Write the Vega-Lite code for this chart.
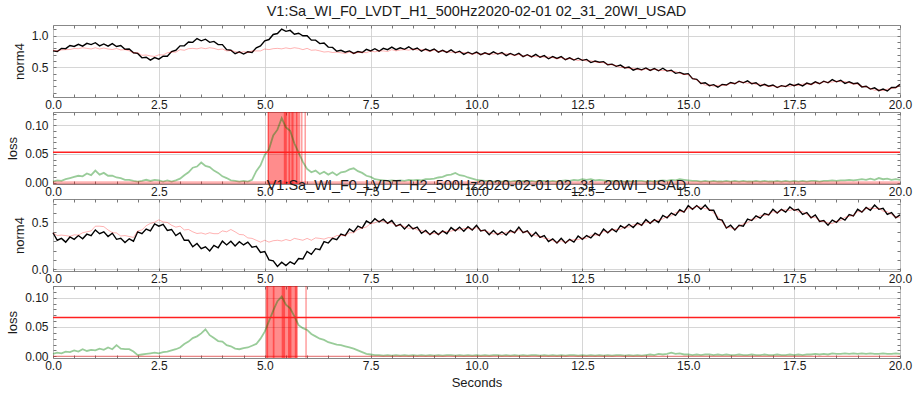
{
  "$schema": "https://vega.github.io/schema/vega-lite/v6.json",
  "background": "white",
  "autosize": {"type": "pad"},
  "padding": {"left": 6, "top": 3, "right": 4, "bottom": 4},
  "spacing": 15,
  "bounds": "flush",
  "config": {
    "font": "Liberation Sans",
    "view": {"stroke": "#888888", "strokeWidth": 1},
    "axis": {
      "labelFont": "Liberation Sans", "labelFontSize": 12, "labelColor": "#1a1a1a",
      "titleFont": "Liberation Sans", "titleFontSize": 13, "titleFontWeight": "normal", "titleColor": "#1a1a1a",
      "grid": true, "gridColor": "#cccccc", "gridWidth": 0.8,
      "domain": false, "tickColor": "#777777", "tickSize": -3, "tickWidth": 1,
      "labelPadding": 5, "labelFlush": false, "labelOverlap": false
    },
    "axisY": {"labelPadding": 8, "titlePadding": 5},
    "title": {"font": "Liberation Sans", "fontSize": 14.5, "fontWeight": "normal", "color": "#1a1a1a", "offset": 4, "anchor": "middle"}
  },
  "datasets": {
    "spans": [
      {"p": "H1", "x0": 5.07, "x1": 5.84}, {"p": "H1", "x0": 5.07, "x1": 5.10}, {"p": "H1", "x0": 5.45, "x1": 5.52},
      {"p": "H1", "x0": 5.56, "x1": 5.60}, {"p": "H1", "x0": 5.63, "x1": 5.68}, {"p": "H1", "x0": 5.74, "x1": 5.77},
      {"p": "H1", "x0": 5.86, "x1": 5.89}, {"p": "H1", "x0": 5.94, "x1": 5.97},
      {"p": "H2", "x0": 5.02, "x1": 5.78}, {"p": "H2", "x0": 5.04, "x1": 5.08}, {"p": "H2", "x0": 5.19, "x1": 5.23},
      {"p": "H2", "x0": 5.40, "x1": 5.48}, {"p": "H2", "x0": 5.55, "x1": 5.63}, {"p": "H2", "x0": 5.71, "x1": 5.76},
      {"p": "H2", "x0": 5.96, "x1": 5.99}
    ],
    "thr": [{"p": "H1", "v": 0.053}, {"p": "H2", "v": 0.066}],
    "zero": [{"v": 0}],
    "ts": [
{"t":0,"a":0.76,"b":0.77,"c":0.002,"d":0.39,"e":0.39,"f":0.004},
{"t":0.1,"a":0.75,"b":0.76,"c":0.004,"d":0.31,"e":0.36,"f":0.006},
{"t":0.2,"a":0.80,"b":0.775,"c":0.003,"d":0.33,"e":0.365,"f":0.005},
{"t":0.3,"a":0.795,"b":0.78,"c":0.006,"d":0.29,"e":0.36,"f":0.008},
{"t":0.4,"a":0.845,"b":0.782,"c":0.008,"d":0.345,"e":0.352,"f":0.007},
{"t":0.5,"a":0.83,"b":0.798,"c":0.010,"d":0.32,"e":0.368,"f":0.010},
{"t":0.6,"a":0.865,"b":0.795,"c":0.012,"d":0.36,"e":0.365,"f":0.008},
{"t":0.7,"a":0.835,"b":0.81,"c":0.011,"d":0.325,"e":0.39,"f":0.012},
{"t":0.8,"a":0.88,"b":0.80,"c":0.016,"d":0.375,"e":0.40,"f":0.009},
{"t":0.9,"a":0.86,"b":0.79,"c":0.013,"d":0.36,"e":0.41,"f":0.011},
{"t":1.0,"a":0.89,"b":0.81,"c":0.021,"d":0.42,"e":0.46,"f":0.010},
{"t":1.1,"a":0.84,"b":0.79,"c":0.014,"d":0.38,"e":0.46,"f":0.013},
{"t":1.2,"a":0.87,"b":0.805,"c":0.017,"d":0.40,"e":0.455,"f":0.011},
{"t":1.3,"a":0.835,"b":0.79,"c":0.012,"d":0.35,"e":0.42,"f":0.015},
{"t":1.4,"a":0.875,"b":0.782,"c":0.012,"d":0.385,"e":0.392,"f":0.012},
{"t":1.5,"a":0.83,"b":0.798,"c":0.009,"d":0.32,"e":0.388,"f":0.019},
{"t":1.6,"a":0.845,"b":0.775,"c":0.008,"d":0.33,"e":0.355,"f":0.013},
{"t":1.7,"a":0.785,"b":0.78,"c":0.005,"d":0.285,"e":0.36,"f":0.012},
{"t":1.8,"a":0.79,"b":0.76,"c":0.005,"d":0.325,"e":0.35,"f":0.012},
{"t":1.9,"a":0.73,"b":0.73,"c":0.003,"d":0.30,"e":0.34,"f":0.008},
{"t":2.0,"a":0.72,"b":0.73,"c":0.002,"d":0.40,"e":0.41,"f":0.002},
{"t":2.1,"a":0.65,"b":0.69,"c":0.003,"d":0.38,"e":0.42,"f":0.003},
{"t":2.2,"a":0.66,"b":0.695,"c":0.005,"d":0.43,"e":0.465,"f":0.004},
{"t":2.3,"a":0.615,"b":0.68,"c":0.003,"d":0.41,"e":0.49,"f":0.005},
{"t":2.4,"a":0.655,"b":0.672,"c":0.005,"d":0.485,"e":0.502,"f":0.006},
{"t":2.5,"a":0.63,"b":0.698,"c":0.004,"d":0.46,"e":0.528,"f":0.005},
{"t":2.6,"a":0.675,"b":0.695,"c":0.002,"d":0.48,"e":0.505,"f":0.007},
{"t":2.7,"a":0.675,"b":0.73,"c":0.004,"d":0.415,"e":0.50,"f":0.008},
{"t":2.8,"a":0.75,"b":0.74,"c":0.002,"d":0.425,"e":0.47,"f":0.010},
{"t":2.9,"a":0.77,"b":0.74,"c":0.004,"d":0.36,"e":0.45,"f":0.012},
{"t":3.0,"a":0.84,"b":0.78,"c":0.007,"d":0.39,"e":0.46,"f":0.015},
{"t":3.1,"a":0.84,"b":0.77,"c":0.013,"d":0.31,"e":0.42,"f":0.021},
{"t":3.2,"a":0.90,"b":0.795,"c":0.018,"d":0.31,"e":0.425,"f":0.025},
{"t":3.3,"a":0.895,"b":0.80,"c":0.026,"d":0.24,"e":0.40,"f":0.031},
{"t":3.4,"a":0.955,"b":0.792,"c":0.028,"d":0.275,"e":0.382,"f":0.034},
{"t":3.5,"a":0.92,"b":0.808,"c":0.035,"d":0.22,"e":0.388,"f":0.039},
{"t":3.6,"a":0.945,"b":0.795,"c":0.029,"d":0.24,"e":0.375,"f":0.046},
{"t":3.7,"a":0.895,"b":0.81,"c":0.027,"d":0.195,"e":0.39,"f":0.036},
{"t":3.8,"a":0.91,"b":0.80,"c":0.021,"d":0.255,"e":0.38,"f":0.031},
{"t":3.9,"a":0.86,"b":0.78,"c":0.017,"d":0.23,"e":0.38,"f":0.026},
{"t":4.0,"a":0.86,"b":0.79,"c":0.011,"d":0.30,"e":0.41,"f":0.025},
{"t":4.1,"a":0.78,"b":0.76,"c":0.008,"d":0.26,"e":0.40,"f":0.019},
{"t":4.2,"a":0.77,"b":0.765,"c":0.004,"d":0.30,"e":0.425,"f":0.017},
{"t":4.3,"a":0.715,"b":0.75,"c":0.003,"d":0.25,"e":0.40,"f":0.013},
{"t":4.4,"a":0.745,"b":0.732,"c":0.002,"d":0.295,"e":0.372,"f":0.012},
{"t":4.5,"a":0.71,"b":0.748,"c":0.003,"d":0.26,"e":0.368,"f":0.014},
{"t":4.6,"a":0.745,"b":0.735,"c":0.002,"d":0.29,"e":0.335,"f":0.015},
{"t":4.7,"a":0.735,"b":0.76,"c":0.005,"d":0.235,"e":0.33,"f":0.018},
{"t":4.8,"a":0.81,"b":0.76,"c":0.020,"d":0.245,"e":0.31,"f":0.021},
{"t":4.9,"a":0.84,"b":0.76,"c":0.030,"d":0.18,"e":0.29,"f":0.030},
{"t":5.0,"a":0.92,"b":0.79,"c":0.048,"d":0.19,"e":0.31,"f":0.042},
{"t":5.1,"a":0.94,"b":0.78,"c":0.058,"d":0.10,"e":0.29,"f":0.060},
{"t":5.2,"a":1.02,"b":0.795,"c":0.082,"d":0.09,"e":0.305,"f":0.078},
{"t":5.3,"a":1.035,"b":0.80,"c":0.092,"d":0.03,"e":0.31,"f":0.094},
{"t":5.4,"a":1.105,"b":0.792,"c":0.112,"d":0.075,"e":0.302,"f":0.102},
{"t":5.5,"a":1.07,"b":0.808,"c":0.096,"d":0.04,"e":0.318,"f":0.088},
{"t":5.6,"a":1.085,"b":0.795,"c":0.090,"d":0.08,"e":0.305,"f":0.082},
{"t":5.7,"a":1.025,"b":0.81,"c":0.068,"d":0.055,"e":0.33,"f":0.068},
{"t":5.8,"a":1.04,"b":0.80,"c":0.052,"d":0.115,"e":0.32,"f":0.053},
{"t":5.9,"a":1.00,"b":0.78,"c":0.036,"d":0.11,"e":0.31,"f":0.048},
{"t":6.0,"a":1.00,"b":0.80,"c":0.024,"d":0.19,"e":0.33,"f":0.045},
{"t":6.1,"a":0.93,"b":0.77,"c":0.018,"d":0.16,"e":0.31,"f":0.038},
{"t":6.2,"a":0.93,"b":0.775,"c":0.021,"d":0.22,"e":0.335,"f":0.034},
{"t":6.3,"a":0.875,"b":0.76,"c":0.015,"d":0.21,"e":0.33,"f":0.030},
{"t":6.4,"a":0.885,"b":0.742,"c":0.019,"d":0.295,"e":0.322,"f":0.028},
{"t":6.5,"a":0.82,"b":0.748,"c":0.014,"d":0.28,"e":0.338,"f":0.024},
{"t":6.6,"a":0.815,"b":0.735,"c":0.018,"d":0.33,"e":0.335,"f":0.022},
{"t":6.7,"a":0.755,"b":0.74,"c":0.013,"d":0.315,"e":0.36,"f":0.020},
{"t":6.8,"a":0.77,"b":0.73,"c":0.018,"d":0.375,"e":0.36,"f":0.019},
{"t":6.9,"a":0.74,"b":0.72,"c":0.019,"d":0.36,"e":0.36,"f":0.017},
{"t":7.0,"a":0.76,"b":0.74,"c":0.023,"d":0.43,"e":0.39,"f":0.015},
{"t":7.1,"a":0.72,"b":0.72,"c":0.025,"d":0.40,"e":0.39,"f":0.013},
{"t":7.2,"a":0.75,"b":0.735,"c":0.020,"d":0.46,"e":0.425,"f":0.010},
{"t":7.3,"a":0.735,"b":0.74,"c":0.017,"d":0.44,"e":0.44,"f":0.007},
{"t":7.4,"a":0.785,"b":0.732,"c":0.012,"d":0.515,"e":0.452,"f":0.004},
{"t":7.5,"a":0.76,"b":0.758,"c":0.010,"d":0.49,"e":0.488,"f":0.003},
{"t":7.6,"a":0.795,"b":0.745,"c":0.006,"d":0.54,"e":0.495,"f":0.002},
{"t":7.7,"a":0.755,"b":0.76,"c":0.005,"d":0.505,"e":0.52,"f":0.002},
{"t":7.8,"a":0.80,"b":0.76,"c":0.004,"d":0.535,"e":0.51,"f":0.001},
{"t":7.9,"a":0.78,"b":0.75,"c":0.003,"d":0.49,"e":0.495,"f":0.002},
{"t":8.0,"a":0.82,"b":0.78,"c":0.004,"d":0.52,"e":0.495,"f":0.001},
{"t":8.1,"a":0.78,"b":0.76,"c":0.003,"d":0.46,"e":0.465,"f":0.002},
{"t":8.2,"a":0.81,"b":0.775,"c":0.004,"d":0.48,"e":0.47,"f":0.001},
{"t":8.3,"a":0.785,"b":0.78,"c":0.003,"d":0.43,"e":0.455,"f":0.002},
{"t":8.4,"a":0.825,"b":0.772,"c":0.005,"d":0.475,"e":0.437,"f":0.001},
{"t":8.5,"a":0.78,"b":0.788,"c":0.004,"d":0.43,"e":0.443,"f":0.002},
{"t":8.6,"a":0.805,"b":0.775,"c":0.005,"d":0.45,"e":0.42,"f":0.001},
{"t":8.7,"a":0.755,"b":0.78,"c":0.004,"d":0.385,"e":0.415,"f":0.002},
{"t":8.8,"a":0.79,"b":0.77,"c":0.006,"d":0.415,"e":0.395,"f":0.001},
{"t":8.9,"a":0.76,"b":0.75,"c":0.006,"d":0.37,"e":0.375,"f":0.002},
{"t":9.0,"a":0.79,"b":0.775,"c":0.007,"d":0.41,"e":0.385,"f":0.001},
{"t":9.1,"a":0.74,"b":0.745,"c":0.009,"d":0.37,"e":0.375,"f":0.002},
{"t":9.2,"a":0.77,"b":0.76,"c":0.010,"d":0.41,"e":0.40,"f":0.001},
{"t":9.3,"a":0.735,"b":0.745,"c":0.013,"d":0.38,"e":0.405,"f":0.002},
{"t":9.4,"a":0.775,"b":0.737,"c":0.014,"d":0.445,"e":0.407,"f":0.002},
{"t":9.5,"a":0.73,"b":0.743,"c":0.017,"d":0.41,"e":0.423,"f":0.001},
{"t":9.6,"a":0.755,"b":0.73,"c":0.013,"d":0.45,"e":0.42,"f":0.002},
{"t":9.7,"a":0.705,"b":0.735,"c":0.012,"d":0.405,"e":0.435,"f":0.001},
{"t":9.8,"a":0.74,"b":0.725,"c":0.009,"d":0.455,"e":0.435,"f":0.002},
{"t":9.9,"a":0.71,"b":0.705,"c":0.007,"d":0.42,"e":0.425,"f":0.001},
{"t":10.0,"a":0.74,"b":0.725,"c":0.005,"d":0.47,"e":0.445,"f":0.002},
{"t":10.1,"a":0.70,"b":0.705,"c":0.004,"d":0.41,"e":0.415,"f":0.001},
{"t":10.2,"a":0.73,"b":0.72,"c":0.003,"d":0.42,"e":0.41,"f":0.002},
{"t":10.3,"a":0.705,"b":0.715,"c":0.003,"d":0.37,"e":0.395,"f":0.001},
{"t":10.4,"a":0.745,"b":0.707,"c":0.002,"d":0.415,"e":0.377,"f":0.002},
{"t":10.5,"a":0.71,"b":0.723,"c":0.003,"d":0.37,"e":0.383,"f":0.002},
{"t":10.6,"a":0.735,"b":0.71,"c":0.002,"d":0.40,"e":0.37,"f":0.001},
{"t":10.7,"a":0.685,"b":0.715,"c":0.003,"d":0.365,"e":0.395,"f":0.002},
{"t":10.8,"a":0.72,"b":0.705,"c":0.002,"d":0.415,"e":0.395,"f":0.001},
{"t":10.9,"a":0.69,"b":0.685,"c":0.003,"d":0.39,"e":0.395,"f":0.002},
{"t":11.0,"a":0.72,"b":0.705,"c":0.002,"d":0.45,"e":0.425,"f":0.001},
{"t":11.1,"a":0.67,"b":0.675,"c":0.003,"d":0.39,"e":0.395,"f":0.002},
{"t":11.2,"a":0.70,"b":0.69,"c":0.002,"d":0.41,"e":0.40,"f":0.001},
{"t":11.3,"a":0.665,"b":0.675,"c":0.003,"d":0.35,"e":0.375,"f":0.002},
{"t":11.4,"a":0.705,"b":0.667,"c":0.002,"d":0.395,"e":0.357,"f":0.002},
{"t":11.5,"a":0.66,"b":0.673,"c":0.003,"d":0.34,"e":0.353,"f":0.001},
{"t":11.6,"a":0.685,"b":0.66,"c":0.003,"d":0.36,"e":0.33,"f":0.002},
{"t":11.7,"a":0.635,"b":0.665,"c":0.002,"d":0.295,"e":0.325,"f":0.001},
{"t":11.8,"a":0.67,"b":0.655,"c":0.003,"d":0.325,"e":0.305,"f":0.002},
{"t":11.9,"a":0.64,"b":0.635,"c":0.002,"d":0.28,"e":0.285,"f":0.001},
{"t":12.0,"a":0.67,"b":0.655,"c":0.003,"d":0.33,"e":0.305,"f":0.002},
{"t":12.1,"a":0.62,"b":0.625,"c":0.004,"d":0.28,"e":0.285,"f":0.001},
{"t":12.2,"a":0.65,"b":0.64,"c":0.003,"d":0.32,"e":0.31,"f":0.002},
{"t":12.3,"a":0.615,"b":0.625,"c":0.005,"d":0.29,"e":0.315,"f":0.002},
{"t":12.4,"a":0.645,"b":0.607,"c":0.004,"d":0.355,"e":0.317,"f":0.001},
{"t":12.5,"a":0.61,"b":0.623,"c":0.006,"d":0.32,"e":0.333,"f":0.002},
{"t":12.6,"a":0.625,"b":0.60,"c":0.005,"d":0.36,"e":0.33,"f":0.001},
{"t":12.7,"a":0.575,"b":0.605,"c":0.006,"d":0.335,"e":0.365,"f":0.002},
{"t":12.8,"a":0.60,"b":0.585,"c":0.004,"d":0.385,"e":0.365,"f":0.001},
{"t":12.9,"a":0.58,"b":0.575,"c":0.005,"d":0.36,"e":0.365,"f":0.002},
{"t":13.0,"a":0.59,"b":0.575,"c":0.004,"d":0.43,"e":0.405,"f":0.001},
{"t":13.1,"a":0.54,"b":0.545,"c":0.003,"d":0.39,"e":0.395,"f":0.002},
{"t":13.2,"a":0.55,"b":0.54,"c":0.003,"d":0.43,"e":0.42,"f":0.001},
{"t":13.3,"a":0.515,"b":0.525,"c":0.002,"d":0.40,"e":0.425,"f":0.002},
{"t":13.4,"a":0.535,"b":0.497,"c":0.003,"d":0.465,"e":0.427,"f":0.002},
{"t":13.5,"a":0.49,"b":0.503,"c":0.002,"d":0.44,"e":0.453,"f":0.001},
{"t":13.6,"a":0.505,"b":0.48,"c":0.003,"d":0.48,"e":0.45,"f":0.002},
{"t":13.7,"a":0.455,"b":0.485,"c":0.002,"d":0.445,"e":0.475,"f":0.001},
{"t":13.8,"a":0.48,"b":0.465,"c":0.003,"d":0.495,"e":0.475,"f":0.002},
{"t":13.9,"a":0.46,"b":0.455,"c":0.003,"d":0.47,"e":0.475,"f":0.001},
{"t":14.0,"a":0.49,"b":0.475,"c":0.002,"d":0.53,"e":0.505,"f":0.002},
{"t":14.1,"a":0.45,"b":0.455,"c":0.003,"d":0.49,"e":0.495,"f":0.003},
{"t":14.2,"a":0.48,"b":0.47,"c":0.002,"d":0.53,"e":0.52,"f":0.002},
{"t":14.3,"a":0.445,"b":0.455,"c":0.003,"d":0.50,"e":0.525,"f":0.004},
{"t":14.4,"a":0.485,"b":0.447,"c":0.004,"d":0.575,"e":0.537,"f":0.003},
{"t":14.5,"a":0.44,"b":0.453,"c":0.003,"d":0.55,"e":0.563,"f":0.004},
{"t":14.6,"a":0.455,"b":0.43,"c":0.005,"d":0.60,"e":0.57,"f":0.006},
{"t":14.7,"a":0.405,"b":0.435,"c":0.004,"d":0.575,"e":0.605,"f":0.004},
{"t":14.8,"a":0.42,"b":0.405,"c":0.006,"d":0.635,"e":0.615,"f":0.005},
{"t":14.9,"a":0.39,"b":0.385,"c":0.005,"d":0.61,"e":0.615,"f":0.003},
{"t":15.0,"a":0.40,"b":0.385,"c":0.004,"d":0.68,"e":0.655,"f":0.003},
{"t":15.1,"a":0.32,"b":0.325,"c":0.003,"d":0.64,"e":0.645,"f":0.002},
{"t":15.2,"a":0.31,"b":0.30,"c":0.003,"d":0.68,"e":0.67,"f":0.003},
{"t":15.3,"a":0.245,"b":0.255,"c":0.002,"d":0.64,"e":0.665,"f":0.002},
{"t":15.4,"a":0.255,"b":0.217,"c":0.003,"d":0.685,"e":0.647,"f":0.003},
{"t":15.5,"a":0.21,"b":0.223,"c":0.002,"d":0.63,"e":0.643,"f":0.003},
{"t":15.6,"a":0.225,"b":0.20,"c":0.003,"d":0.63,"e":0.60,"f":0.002},
{"t":15.7,"a":0.185,"b":0.215,"c":0.002,"d":0.535,"e":0.565,"f":0.003},
{"t":15.8,"a":0.23,"b":0.215,"c":0.002,"d":0.525,"e":0.505,"f":0.002},
{"t":15.9,"a":0.22,"b":0.215,"c":0.003,"d":0.44,"e":0.445,"f":0.003},
{"t":16.0,"a":0.26,"b":0.245,"c":0.002,"d":0.47,"e":0.445,"f":0.002},
{"t":16.1,"a":0.24,"b":0.245,"c":0.003,"d":0.42,"e":0.425,"f":0.002},
{"t":16.2,"a":0.28,"b":0.27,"c":0.002,"d":0.47,"e":0.46,"f":0.003},
{"t":16.3,"a":0.255,"b":0.265,"c":0.003,"d":0.46,"e":0.485,"f":0.002},
{"t":16.4,"a":0.285,"b":0.247,"c":0.002,"d":0.535,"e":0.497,"f":0.002},
{"t":16.5,"a":0.24,"b":0.253,"c":0.002,"d":0.52,"e":0.533,"f":0.003},
{"t":16.6,"a":0.255,"b":0.23,"c":0.003,"d":0.57,"e":0.54,"f":0.002},
{"t":16.7,"a":0.205,"b":0.235,"c":0.002,"d":0.545,"e":0.575,"f":0.002},
{"t":16.8,"a":0.23,"b":0.215,"c":0.003,"d":0.595,"e":0.575,"f":0.003},
{"t":16.9,"a":0.20,"b":0.195,"c":0.002,"d":0.58,"e":0.585,"f":0.002},
{"t":17.0,"a":0.22,"b":0.205,"c":0.002,"d":0.64,"e":0.615,"f":0.002},
{"t":17.1,"a":0.18,"b":0.185,"c":0.003,"d":0.60,"e":0.605,"f":0.003},
{"t":17.2,"a":0.21,"b":0.20,"c":0.002,"d":0.64,"e":0.63,"f":0.002},
{"t":17.3,"a":0.195,"b":0.205,"c":0.003,"d":0.61,"e":0.635,"f":0.002},
{"t":17.4,"a":0.235,"b":0.197,"c":0.002,"d":0.665,"e":0.627,"f":0.003},
{"t":17.5,"a":0.21,"b":0.223,"c":0.003,"d":0.63,"e":0.643,"f":0.002},
{"t":17.6,"a":0.235,"b":0.21,"c":0.002,"d":0.64,"e":0.61,"f":0.003},
{"t":17.7,"a":0.205,"b":0.235,"c":0.003,"d":0.585,"e":0.615,"f":0.002},
{"t":17.8,"a":0.25,"b":0.235,"c":0.002,"d":0.605,"e":0.585,"f":0.003},
{"t":17.9,"a":0.23,"b":0.225,"c":0.003,"d":0.55,"e":0.555,"f":0.003},
{"t":18.0,"a":0.27,"b":0.255,"c":0.003,"d":0.58,"e":0.555,"f":0.004},
{"t":18.1,"a":0.24,"b":0.245,"c":0.002,"d":0.51,"e":0.515,"f":0.003},
{"t":18.2,"a":0.28,"b":0.27,"c":0.003,"d":0.52,"e":0.51,"f":0.004},
{"t":18.3,"a":0.255,"b":0.265,"c":0.003,"d":0.47,"e":0.495,"f":0.003},
{"t":18.4,"a":0.305,"b":0.267,"c":0.004,"d":0.525,"e":0.487,"f":0.005},
{"t":18.5,"a":0.27,"b":0.283,"c":0.003,"d":0.50,"e":0.513,"f":0.004},
{"t":18.6,"a":0.295,"b":0.27,"c":0.004,"d":0.55,"e":0.52,"f":0.004},
{"t":18.7,"a":0.245,"b":0.275,"c":0.004,"d":0.525,"e":0.555,"f":0.005},
{"t":18.8,"a":0.27,"b":0.255,"c":0.005,"d":0.585,"e":0.565,"f":0.004},
{"t":18.9,"a":0.24,"b":0.235,"c":0.004,"d":0.57,"e":0.575,"f":0.005},
{"t":19.0,"a":0.25,"b":0.235,"c":0.005,"d":0.64,"e":0.615,"f":0.004},
{"t":19.1,"a":0.19,"b":0.195,"c":0.006,"d":0.61,"e":0.615,"f":0.005},
{"t":19.2,"a":0.20,"b":0.19,"c":0.005,"d":0.66,"e":0.65,"f":0.004},
{"t":19.3,"a":0.155,"b":0.165,"c":0.007,"d":0.63,"e":0.655,"f":0.005},
{"t":19.4,"a":0.175,"b":0.137,"c":0.005,"d":0.685,"e":0.647,"f":0.004},
{"t":19.5,"a":0.13,"b":0.143,"c":0.008,"d":0.64,"e":0.653,"f":0.004},
{"t":19.6,"a":0.155,"b":0.13,"c":0.006,"d":0.65,"e":0.62,"f":0.005},
{"t":19.7,"a":0.125,"b":0.155,"c":0.007,"d":0.585,"e":0.615,"f":0.004},
{"t":19.8,"a":0.18,"b":0.165,"c":0.005,"d":0.605,"e":0.585,"f":0.004},
{"t":19.9,"a":0.18,"b":0.175,"c":0.006,"d":0.55,"e":0.555,"f":0.005},
{"t":20.0,"a":0.23,"b":0.215,"c":0.005,"d":0.58,"e":0.555,"f":0.004}
    ]
  },
  "vconcat": [
    {
      "title": "V1:Sa_WI_F0_LVDT_H1_500Hz2020-02-01 02_31_20WI_USAD",
      "width": 847, "height": 72,
      "data": {"name": "ts"},
      "resolve": {"axis": {"x": "independent", "y": "independent"}},
      "layer": [
        {"mark": {"type": "line", "color": "#000000", "strokeWidth": 1.4},
         "encoding": {
           "x": {"field": "t", "type": "quantitative", "scale": {"domain": [0, 20], "nice": false, "zero": false},
                 "axis": {"orient": "bottom", "values": [0,0.5,1,1.5,2,2.5,3,3.5,4,4.5,5,5.5,6,6.5,7,7.5,8,8.5,9,9.5,10,10.5,11,11.5,12,12.5,13,13.5,14,14.5,15,15.5,16,16.5,17,17.5,18,18.5,19,19.5,20],
                          "labelExpr": "round(datum.value*10) % 25 == 0 ? format(datum.value, '.1f') : ''",
                          "gridOpacity": {"condition": {"test": "round(datum.value*10) % 25 == 0", "value": 1}, "value": 0}, "title": null}},
           "y": {"field": "a", "type": "quantitative", "scale": {"domain": [0.03, 1.17], "nice": false, "zero": false},
                 "axis": {"orient": "left", "values": [0.1,0.2,0.3,0.4,0.5,0.6,0.7,0.8,0.9,1.0,1.1],
                          "labelExpr": "round(datum.value*10) % 5 == 0 ? format(datum.value, '.1f') : ''",
                          "gridOpacity": {"condition": {"test": "round(datum.value*10) % 5 == 0", "value": 1}, "value": 0}, "title": "norm4"}}}},
        {"mark": {"type": "line", "color": "#ff0000", "opacity": 0.3, "strokeWidth": 1},
         "encoding": {
           "x": {"field": "t", "type": "quantitative", "scale": {"domain": [0, 20], "nice": false, "zero": false},
                 "axis": {"orient": "top", "values": [0,0.5,1,1.5,2,2.5,3,3.5,4,4.5,5,5.5,6,6.5,7,7.5,8,8.5,9,9.5,10,10.5,11,11.5,12,12.5,13,13.5,14,14.5,15,15.5,16,16.5,17,17.5,18,18.5,19,19.5,20], "labels": false, "grid": false, "title": null}},
           "y": {"field": "b", "type": "quantitative",
                 "axis": {"orient": "right", "values": [0.1,0.2,0.3,0.4,0.5,0.6,0.7,0.8,0.9,1.0,1.1], "labels": false, "grid": false, "title": null}}}}
      ]
    },
    {
      "width": 847, "height": 72,
      "resolve": {"axis": {"x": "independent", "y": "independent"}},
      "layer": [
        {"data": {"name": "spans"}, "transform": [{"filter": "datum.p == 'H1'"}],
         "mark": {"type": "rect", "color": "#ff0000", "opacity": 0.45},
         "encoding": {
           "x": {"field": "x0", "type": "quantitative", "scale": {"domain": [0, 20], "nice": false, "zero": false},
                 "axis": {"orient": "bottom", "values": [0,0.5,1,1.5,2,2.5,3,3.5,4,4.5,5,5.5,6,6.5,7,7.5,8,8.5,9,9.5,10,10.5,11,11.5,12,12.5,13,13.5,14,14.5,15,15.5,16,16.5,17,17.5,18,18.5,19,19.5,20],
                          "labelExpr": "round(datum.value*10) % 25 == 0 ? format(datum.value, '.1f') : ''",
                          "gridOpacity": {"condition": {"test": "round(datum.value*10) % 25 == 0", "value": 1}, "value": 0}, "title": null}},
           "x2": {"field": "x1"}}},
        {"data": {"name": "ts"},
         "mark": {"type": "line", "color": "#008000", "opacity": 0.4, "strokeWidth": 1.8},
         "encoding": {
           "x": {"field": "t", "type": "quantitative", "scale": {"domain": [0, 20], "nice": false, "zero": false},
                 "axis": {"orient": "top", "values": [0,0.5,1,1.5,2,2.5,3,3.5,4,4.5,5,5.5,6,6.5,7,7.5,8,8.5,9,9.5,10,10.5,11,11.5,12,12.5,13,13.5,14,14.5,15,15.5,16,16.5,17,17.5,18,18.5,19,19.5,20], "labels": false, "grid": false, "title": null}},
           "y": {"field": "c", "type": "quantitative", "scale": {"domain": [-0.0023, 0.1227], "nice": false, "zero": false},
                 "axis": {"orient": "left", "values": [0,0.01,0.02,0.03,0.04,0.05,0.06,0.07,0.08,0.09,0.1,0.11,0.12],
                          "labelExpr": "round(datum.value*100) % 5 == 0 ? format(datum.value, '.2f') : ''",
                          "gridOpacity": {"condition": {"test": "round(datum.value*100) % 5 == 0", "value": 1}, "value": 0}, "title": "loss"}}}},
        {"data": {"name": "zero"},
         "mark": {"type": "rule", "color": "#ff0000", "opacity": 0.3, "strokeWidth": 3},
         "encoding": {"y": {"field": "v", "type": "quantitative",
                 "axis": {"orient": "right", "values": [0,0.01,0.02,0.03,0.04,0.05,0.06,0.07,0.08,0.09,0.1,0.11,0.12], "labels": false, "grid": false, "title": null}}}},
        {"data": {"name": "thr"}, "transform": [{"filter": "datum.p == 'H1'"}],
         "mark": {"type": "rule", "color": "#ff2020", "strokeWidth": 1.5},
         "encoding": {"y": {"field": "v", "type": "quantitative", "axis": null}}}
      ]
    },
    {
      "title": "V1:Sa_WI_F0_LVDT_H2_500Hz2020-02-01 02_31_20WI_USAD",
      "width": 847, "height": 72,
      "data": {"name": "ts"},
      "resolve": {"axis": {"x": "independent", "y": "independent"}},
      "layer": [
        {"mark": {"type": "line", "color": "#000000", "strokeWidth": 1.4},
         "encoding": {
           "x": {"field": "t", "type": "quantitative", "scale": {"domain": [0, 20], "nice": false, "zero": false},
                 "axis": {"orient": "bottom", "values": [0,0.5,1,1.5,2,2.5,3,3.5,4,4.5,5,5.5,6,6.5,7,7.5,8,8.5,9,9.5,10,10.5,11,11.5,12,12.5,13,13.5,14,14.5,15,15.5,16,16.5,17,17.5,18,18.5,19,19.5,20],
                          "labelExpr": "round(datum.value*10) % 25 == 0 ? format(datum.value, '.1f') : ''",
                          "gridOpacity": {"condition": {"test": "round(datum.value*10) % 25 == 0", "value": 1}, "value": 0}, "title": null}},
           "y": {"field": "d", "type": "quantitative", "scale": {"domain": [-0.018, 0.75], "nice": false, "zero": false},
                 "axis": {"orient": "left", "values": [0,0.1,0.2,0.3,0.4,0.5,0.6,0.7],
                          "labelExpr": "round(datum.value*10) % 5 == 0 ? format(datum.value, '.1f') : ''",
                          "gridOpacity": {"condition": {"test": "round(datum.value*10) % 5 == 0", "value": 1}, "value": 0}, "title": "norm4"}}}},
        {"mark": {"type": "line", "color": "#ff0000", "opacity": 0.3, "strokeWidth": 1},
         "encoding": {
           "x": {"field": "t", "type": "quantitative", "scale": {"domain": [0, 20], "nice": false, "zero": false},
                 "axis": {"orient": "top", "values": [0,0.5,1,1.5,2,2.5,3,3.5,4,4.5,5,5.5,6,6.5,7,7.5,8,8.5,9,9.5,10,10.5,11,11.5,12,12.5,13,13.5,14,14.5,15,15.5,16,16.5,17,17.5,18,18.5,19,19.5,20], "labels": false, "grid": false, "title": null}},
           "y": {"field": "e", "type": "quantitative",
                 "axis": {"orient": "right", "values": [0,0.1,0.2,0.3,0.4,0.5,0.6,0.7], "labels": false, "grid": false, "title": null}}}}
      ]
    },
    {
      "width": 847, "height": 72,
      "resolve": {"axis": {"x": "independent", "y": "independent"}},
      "layer": [
        {"data": {"name": "spans"}, "transform": [{"filter": "datum.p == 'H2'"}],
         "mark": {"type": "rect", "color": "#ff0000", "opacity": 0.45},
         "encoding": {
           "x": {"field": "x0", "type": "quantitative", "scale": {"domain": [0, 20], "nice": false, "zero": false},
                 "axis": {"orient": "bottom", "values": [0,0.5,1,1.5,2,2.5,3,3.5,4,4.5,5,5.5,6,6.5,7,7.5,8,8.5,9,9.5,10,10.5,11,11.5,12,12.5,13,13.5,14,14.5,15,15.5,16,16.5,17,17.5,18,18.5,19,19.5,20],
                          "labelExpr": "round(datum.value*10) % 25 == 0 ? format(datum.value, '.1f') : ''",
                          "gridOpacity": {"condition": {"test": "round(datum.value*10) % 25 == 0", "value": 1}, "value": 0}, "title": "Seconds", "titlePadding": 5}},
           "x2": {"field": "x1"}}},
        {"data": {"name": "ts"},
         "mark": {"type": "line", "color": "#008000", "opacity": 0.4, "strokeWidth": 1.8},
         "encoding": {
           "x": {"field": "t", "type": "quantitative", "scale": {"domain": [0, 20], "nice": false, "zero": false},
                 "axis": {"orient": "top", "values": [0,0.5,1,1.5,2,2.5,3,3.5,4,4.5,5,5.5,6,6.5,7,7.5,8,8.5,9,9.5,10,10.5,11,11.5,12,12.5,13,13.5,14,14.5,15,15.5,16,16.5,17,17.5,18,18.5,19,19.5,20], "labels": false, "grid": false, "title": null}},
           "y": {"field": "f", "type": "quantitative", "scale": {"domain": [-0.003, 0.12], "nice": false, "zero": false},
                 "axis": {"orient": "left", "values": [0,0.01,0.02,0.03,0.04,0.05,0.06,0.07,0.08,0.09,0.1,0.11,0.12],
                          "labelExpr": "round(datum.value*100) % 5 == 0 ? format(datum.value, '.2f') : ''",
                          "gridOpacity": {"condition": {"test": "round(datum.value*100) % 5 == 0", "value": 1}, "value": 0}, "title": "loss"}}}},
        {"data": {"name": "zero"},
         "mark": {"type": "rule", "color": "#ff0000", "opacity": 0.5, "strokeWidth": 1},
         "encoding": {"y": {"field": "v", "type": "quantitative",
                 "axis": {"orient": "right", "values": [0,0.01,0.02,0.03,0.04,0.05,0.06,0.07,0.08,0.09,0.1,0.11,0.12], "labels": false, "grid": false, "title": null}}}},
        {"data": {"name": "thr"}, "transform": [{"filter": "datum.p == 'H2'"}],
         "mark": {"type": "rule", "color": "#ff2020", "strokeWidth": 1.5},
         "encoding": {"y": {"field": "v", "type": "quantitative", "axis": null}}}
      ]
    }
  ]
}
